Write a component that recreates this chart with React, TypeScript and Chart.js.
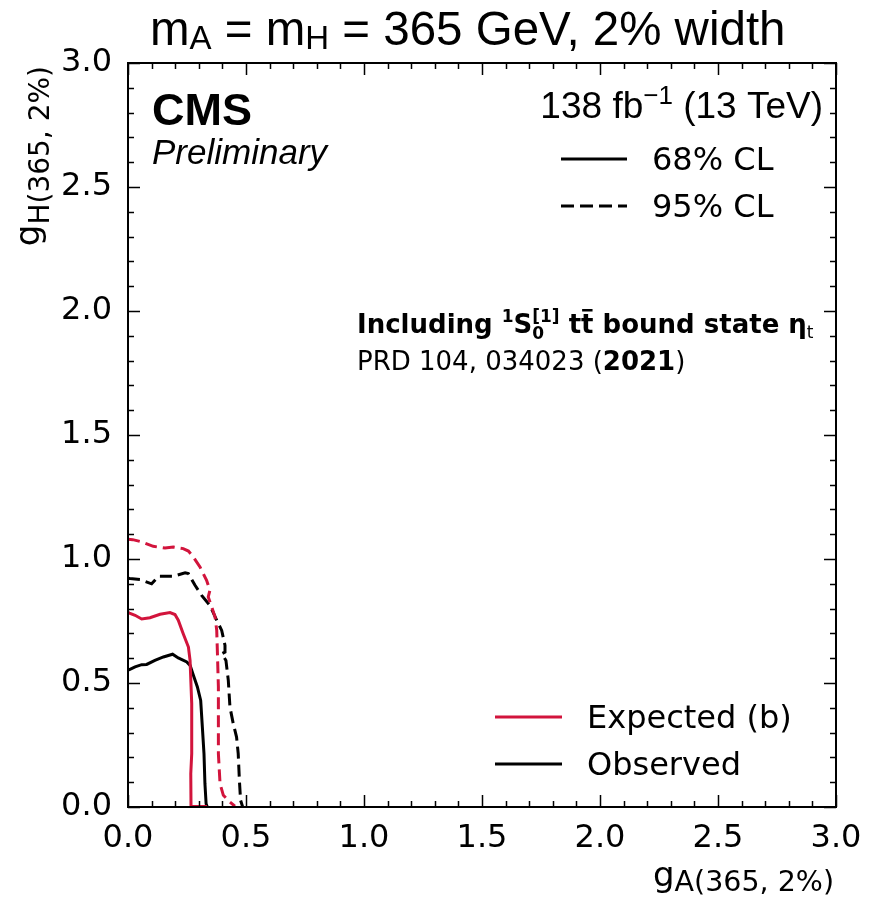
import React, { useEffect, useRef } from "react";
import { Chart, registerables } from "chart.js";

Chart.register(...registerables);

// ---- Data ----
const xTickValues = [0, 0.5, 1.0, 1.5, 2.0, 2.5, 3.0];
const yTickValues = [0, 0.5, 1.0, 1.5, 2.0, 2.5, 3.0];

// Expected (b), 95% CL (red dashed)
const expected95: [number, number][] = [
  [0.0, 1.08], [0.02, 1.078], [0.058, 1.069], [0.107, 1.051], [0.157, 1.044],
  [0.192, 1.048], [0.234, 1.042], [0.256, 1.032], [0.277, 1.008], [0.305, 0.968],
  [0.333, 0.914], [0.347, 0.874], [0.34, 0.847], [0.355, 0.806], [0.369, 0.766],
  [0.376, 0.712], [0.379, 0.618], [0.383, 0.484], [0.383, 0.349], [0.383, 0.215],
  [0.39, 0.094], [0.404, 0.047], [0.432, 0.02], [0.453, 0.003],
];

// Observed, 95% CL (black dashed)
const observed95: [number, number][] = [
  [0.0, 0.922], [0.008, 0.921], [0.051, 0.917], [0.1, 0.9], [0.129, 0.93],
  [0.192, 0.93], [0.242, 0.944], [0.256, 0.941], [0.284, 0.894], [0.312, 0.853],
  [0.347, 0.813], [0.376, 0.753], [0.397, 0.712], [0.411, 0.652], [0.411, 0.625],
  [0.397, 0.618], [0.415, 0.591], [0.425, 0.511], [0.432, 0.403], [0.446, 0.336],
  [0.46, 0.282], [0.467, 0.215], [0.472, 0.108], [0.477, 0.027], [0.486, 0.0],
];

// Expected (b), 68% CL (red solid)
const expected68: [number, number][] = [
  [0.0, 0.785], [0.006, 0.782], [0.03, 0.773], [0.058, 0.758], [0.093, 0.763],
  [0.136, 0.777], [0.178, 0.784], [0.199, 0.776], [0.213, 0.753], [0.234, 0.699],
  [0.256, 0.645], [0.263, 0.591], [0.27, 0.417], [0.27, 0.215], [0.266, 0.134],
  [0.267, 0.002], [0.335, 0.002],
];

// Observed, 68% CL (black solid)
const observed68: [number, number][] = [
  [0.0, 0.552], [0.006, 0.554], [0.03, 0.565], [0.058, 0.574], [0.079, 0.575],
  [0.114, 0.591], [0.15, 0.605], [0.189, 0.616], [0.213, 0.601], [0.249, 0.585],
  [0.263, 0.571], [0.277, 0.531], [0.294, 0.484], [0.308, 0.43], [0.315, 0.323],
  [0.322, 0.215], [0.326, 0.094], [0.331, 0.013], [0.336, 0.0],
];

const RED = "#D2143C";
const BLACK = "#000000";

type Run = { t: string; font: string; dy?: number };

function drawRuns(ctx: CanvasRenderingContext2D, runs: Run[], x: number, y: number, align: "left" | "right" = "left") {
  let total = 0;
  for (const r of runs) {
    ctx.font = r.font;
    total += ctx.measureText(r.t).width;
  }
  let cx = align === "left" ? x : x - total;
  for (const r of runs) {
    ctx.font = r.font;
    ctx.fillText(r.t, cx, y + (r.dy || 0));
    cx += ctx.measureText(r.t).width;
  }
}

const decorPlugin = {
  id: "decor",
  afterDraw(chart: any) {
    const { ctx, chartArea } = chart;
    const { left, top, right, bottom } = chartArea;
    const xs = chart.scales.x;
    const ys = chart.scales.y;
    ctx.save();
    // frame
    ctx.strokeStyle = "#000";
    ctx.lineWidth = 2;
    ctx.strokeRect(left, top, right - left, bottom - top);
    // ticks
    ctx.lineWidth = 1.5;
    ctx.beginPath();
    for (let i = 0; i <= 30; i++) {
      const v = i / 10;
      const len = i % 5 === 0 ? 12 : 6;
      const px = Math.round(xs.getPixelForValue(v)) + 0.5;
      ctx.moveTo(px, bottom);
      ctx.lineTo(px, bottom - len);
      ctx.moveTo(px, top);
      ctx.lineTo(px, top + len);
      const py = Math.round(ys.getPixelForValue(v)) + 0.5;
      ctx.moveTo(left, py);
      ctx.lineTo(left + len, py);
      ctx.moveTo(right, py);
      ctx.lineTo(right - len, py);
    }
    ctx.stroke();

    ctx.fillStyle = "#000";
    ctx.textBaseline = "alphabetic";
    ctx.textAlign = "left";

    // Title
    const tf = "47.5px 'Liberation Sans'";
    const tsf = "33px 'Liberation Sans'";
    drawRuns(ctx, [
      { t: "m", font: tf },
      { t: "A", font: tsf, dy: 4 },
      { t: " = m", font: tf },
      { t: "H", font: tsf, dy: 4 },
      { t: " = 365 GeV, 2% width", font: tf },
    ], 150, 45);

    // CMS / Preliminary
    ctx.font = "bold 45px 'Liberation Sans'";
    ctx.fillText("CMS", 152, 125);
    ctx.font = "italic 35px 'Liberation Sans'";
    ctx.fillText("Preliminary", 152, 164);

    // Lumi
    drawRuns(ctx, [
      { t: "138 fb", font: "37px 'Liberation Sans'" },
      { t: "\u22121", font: "26px 'Liberation Sans'", dy: -14 },
      { t: " (13 TeV)", font: "37px 'Liberation Sans'" },
    ], 823, 118, "right");

    // CL legend
    ctx.lineWidth = 3;
    ctx.strokeStyle = "#000";
    ctx.beginPath();
    ctx.moveTo(561, 159);
    ctx.lineTo(627, 159);
    ctx.stroke();
    ctx.setLineDash([13, 6]);
    ctx.beginPath();
    ctx.moveTo(561, 206);
    ctx.lineTo(627, 206);
    ctx.stroke();
    ctx.setLineDash([]);
    ctx.font = "32px 'DejaVu Sans'";
    ctx.fillText("68% CL", 652, 170);
    ctx.fillText("95% CL", 652, 217);

    // Annotation
    const bf = "bold 26px 'DejaVu Sans'";
    const bsf = "bold 17px 'DejaVu Sans'";
    const ax = 357;
    const ay = 333;
    let cx = ax;
    const put = (t: string, font: string, dy = 0) => {
      ctx.font = font;
      ctx.fillText(t, cx, ay + dy);
      const w = ctx.measureText(t).width;
      cx += w;
      return w;
    };
    put("Including ", bf);
    put("1", bsf, -11);
    put("S", bf);
    const sx = cx;
    const wsup = put("[1]", bsf, -11);
    cx = sx;
    put("0", bsf, 6);
    cx = sx + wsup;
    put(" t", bf);
    const tbx = cx;
    const tw = put("t", bf);
    // bar over second t
    ctx.fillRect(tbx + 1, ay - 24, tw - 2, 2.5);
    put(" bound state ", bf);
    put("\u03b7", bf);
    put("t", "17px 'DejaVu Sans'", 5);

    cx = ax;
    const ay2 = 370;
    const rf = "26px 'DejaVu Sans'";
    ctx.font = rf;
    ctx.fillText("PRD 104, 034023 (", cx, ay2);
    cx += ctx.measureText("PRD 104, 034023 (").width;
    ctx.font = "bold 26px 'DejaVu Sans'";
    ctx.fillText("2021", cx, ay2);
    cx += ctx.measureText("2021").width;
    ctx.font = rf;
    ctx.fillText(")", cx, ay2);

    // Expected / Observed legend
    ctx.lineWidth = 3;
    ctx.strokeStyle = RED;
    ctx.beginPath();
    ctx.moveTo(495, 717);
    ctx.lineTo(562, 717);
    ctx.stroke();
    ctx.strokeStyle = BLACK;
    ctx.beginPath();
    ctx.moveTo(495, 764);
    ctx.lineTo(562, 764);
    ctx.stroke();
    ctx.font = "32px 'DejaVu Sans'";
    ctx.fillText("Expected (b)", 587, 728);
    ctx.fillText("Observed", 587, 775);

    // X axis label
    drawRuns(ctx, [
      { t: "g", font: "34px 'DejaVu Sans'", dy: -5 },
      { t: "A(365, 2%)", font: "28.5px 'DejaVu Sans'" },
    ], 834, 891, "right");

    // Y axis label (rotated)
    ctx.save();
    ctx.translate(49, 66);
    ctx.rotate(-Math.PI / 2);
    drawRuns(ctx, [
      { t: "g", font: "34px 'DejaVu Sans'", dy: -10 },
      { t: "H(365, 2%)", font: "28px 'DejaVu Sans'" },
    ], 0, 0, "right");
    ctx.restore();

    ctx.restore();
  },
};

function toPts(arr: [number, number][]) {
  return arr.map(([x, y]) => ({ x, y }));
}

export default function App() {
  const ref = useRef<HTMLCanvasElement | null>(null);
  useEffect(() => {
    if (!ref.current) return;
    const lineDs = (label: string, data: [number, number][], color: string, dashed: boolean) => ({
      label,
      data: toPts(data),
      borderColor: color,
      backgroundColor: color,
      borderWidth: 3,
      borderDash: dashed ? [12, 6] : [],
      showLine: true,
      pointRadius: 0,
      tension: 0,
      fill: false,
    });
    const chart = new Chart(ref.current, {
      type: "scatter",
      data: {
        datasets: [
          lineDs("Expected (b) 95% CL", expected95, RED, true),
          lineDs("Observed 95% CL", observed95, BLACK, true),
          lineDs("Expected (b) 68% CL", expected68, RED, false),
          lineDs("Observed 68% CL", observed68, BLACK, false),
        ],
      },
      options: {
        responsive: false,
        maintainAspectRatio: false,
        animation: false,
        devicePixelRatio: 1,
        layout: { padding: { left: 0, top: 63, right: 42, bottom: 0 } },
        plugins: { legend: { display: false }, tooltip: { enabled: false } },
        scales: {
          x: {
            type: "linear",
            min: 0,
            max: 3,
            afterFit: (s: any) => { s.height = 94; },
            afterBuildTicks: (s: any) => { s.ticks = xTickValues.map((v) => ({ value: v })); },
            ticks: {
              callback: (v: any) => Number(v).toFixed(1),
              font: { family: "'DejaVu Sans'", size: 32 },
              color: "#000",
              padding: 12,
              maxRotation: 0,
              autoSkip: false,
            },
            grid: { display: false, drawTicks: false },
            border: { display: false },
          },
          y: {
            type: "linear",
            min: 0,
            max: 3,
            afterFit: (s: any) => { s.width = 128; },
            afterBuildTicks: (s: any) => { s.ticks = yTickValues.map((v) => ({ value: v })); },
            ticks: {
              callback: (v: any) => Number(v).toFixed(1),
              font: { family: "'DejaVu Sans'", size: 32 },
              color: "#000",
              padding: 16,
              autoSkip: false,
            },
            grid: { display: false, drawTicks: false },
            border: { display: false },
          },
        },
      },
      plugins: [decorPlugin],
    } as any);
    return () => chart.destroy();
  }, []);
  return (
    <div style={{ position: "absolute", left: 0, top: 0, width: 878, height: 901, background: "#fff" }}>
      <canvas ref={ref} width={878} height={901} style={{ display: "block" }} />
    </div>
  );
}
